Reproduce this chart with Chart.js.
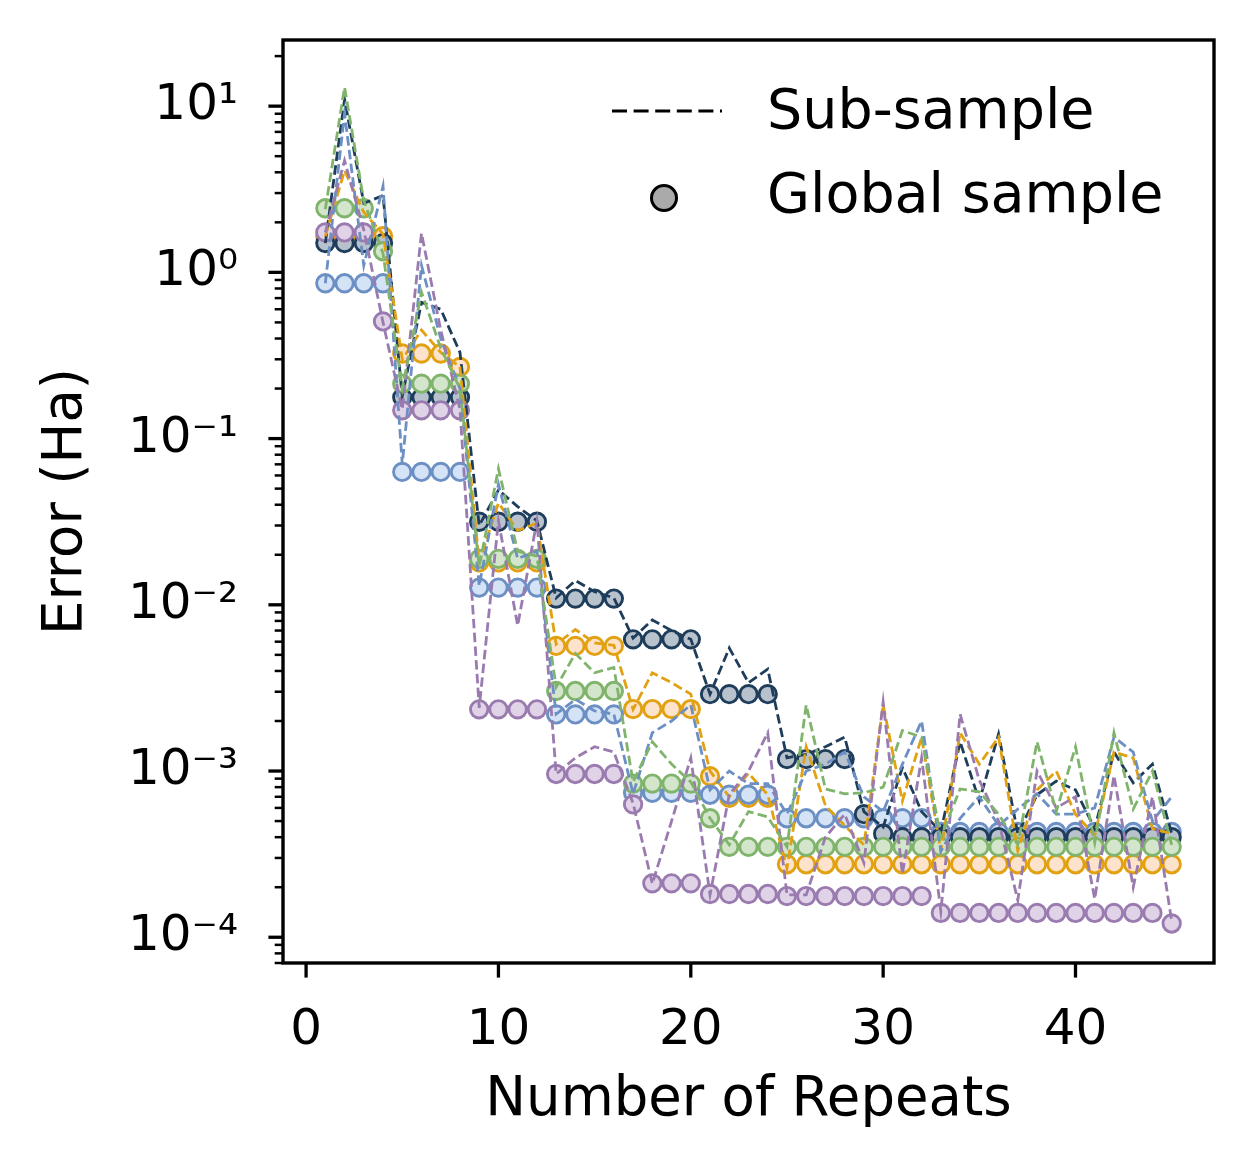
<!DOCTYPE html>
<html>
<head>
<meta charset="utf-8">
<script src="https://cdn.jsdelivr.net/npm/chart.js@4.4.1/dist/chart.umd.min.js"></script>
<style>
html,body{margin:0;padding:0;background:#fff;}
#wrap{width:1253px;height:1173px;}
</style>
</head>
<body>
<div id="wrap"><canvas id="c" width="1253" height="1173"></canvas></div>
<script>
// ---- data ----
const repeats = [1,2,3,4,5,6,7,8,9,10,11,12,13,14,15,16,17,18,19,20,21,22,23,24,25,26,27,28,29,30,31,32,33,34,35,36,37,38,39,40,41,42,43,44,45];

const navySub = [1.5, 11, 2.6, 2.9, 0.18, 0.66, 0.6, 0.33, 0.03, 0.049, 0.039, 0.032, 0.011, 0.014, 0.012, 0.011, 0.0063, 0.0081, 0.007, 0.0062, 0.0029, 0.0055, 0.0034, 0.0041, 0.0012, 0.00126, 0.0014, 0.0016, 0.00057, 0.00046, 0.00105, 0.00057, 0.00043, 0.0015, 0.00066, 0.00167, 0.00042, 0.00072, 0.00087, 0.00077, 0.00045, 0.0013, 0.00085, 0.0011, 0.00042];
const navyGlobal = [1.5, 1.5, 1.5, 1.5, 0.177, 0.177, 0.177, 0.177, 0.0316, 0.0316, 0.0316, 0.0316, 0.0109, 0.0109, 0.0109, 0.0109, 0.0062, 0.0062, 0.0062, 0.0062, 0.0029, 0.0029, 0.0029, 0.0029, 0.00118, 0.00118, 0.00118, 0.00118, 0.00055, 0.00042, 0.0004, 0.0004, 0.0004, 0.0004, 0.0004, 0.0004, 0.0004, 0.0004, 0.0004, 0.0004, 0.0004, 0.0004, 0.0004, 0.0004, 0.0004];

const orangeSub = [1.65, 4.1, 2.3, 1.7, 0.3, 0.45, 0.33, 0.27, 0.018, 0.041, 0.028, 0.031, 0.0058, 0.0071, 0.0059, 0.0057, 0.00235, 0.0039, 0.0034, 0.0029, 0.001, 0.0007, 0.00097, 0.00072, 0.00026, 0.0014, 0.00062, 0.00047, 0.00036, 0.0025, 0.00066, 0.0016, 0.00033, 0.0017, 0.0011, 0.0016, 0.00033, 0.00077, 0.001, 0.00055, 0.00041, 0.0013, 0.0012, 0.00045, 0.00042];
const orangeGlobal = [1.65, 1.65, 1.65, 1.65, 0.325, 0.325, 0.325, 0.27, 0.018, 0.018, 0.018, 0.018, 0.00566, 0.00566, 0.00566, 0.00566, 0.00236, 0.00236, 0.00236, 0.00236, 0.00093, 0.00069, 0.00069, 0.00069, 0.000275, 0.000275, 0.000275, 0.000275, 0.000275, 0.000275, 0.000275, 0.000275, 0.000275, 0.000275, 0.000275, 0.000275, 0.000275, 0.000275, 0.000275, 0.000275, 0.000275, 0.000275, 0.000275, 0.000275, 0.000275];

const greenSub = [2.4, 13, 2.7, 1.3, 0.2, 0.76, 0.35, 0.2, 0.017, 0.066, 0.021, 0.0196, 0.0032, 0.0051, 0.0039, 0.0042, 0.00086, 0.0015, 0.0011, 0.00086, 0.00052, 0.00036, 0.00057, 0.00053, 0.00035, 0.0025, 0.00078, 0.00073, 0.00074, 0.0008, 0.00175, 0.0016, 0.0004, 0.00078, 0.00075, 0.00055, 0.00036, 0.0015, 0.00057, 0.0014, 0.00037, 0.0017, 0.00059, 0.001, 0.00036];
const greenGlobal = [2.43, 2.43, 2.43, 1.34, 0.214, 0.214, 0.214, 0.214, 0.0189, 0.0189, 0.0189, 0.0189, 0.00303, 0.00303, 0.00303, 0.00303, 0.00084, 0.00084, 0.00084, 0.00084, 0.00052, 0.00035, 0.00035, 0.00035, 0.00035, 0.00035, 0.00035, 0.00035, 0.00035, 0.00035, 0.00035, 0.00035, 0.00035, 0.00035, 0.00035, 0.00035, 0.00035, 0.00035, 0.00035, 0.00035, 0.00035, 0.00035, 0.00035, 0.00035, 0.00035];

const blueSub = [0.86, 9, 1.1, 3.3, 0.07, 1.1, 0.4, 0.2, 0.013, 0.053, 0.019, 0.021, 0.0022, 0.0027, 0.0023, 0.0022, 0.00073, 0.0017, 0.002, 0.0025, 0.00077, 0.001, 0.00084, 0.00084, 0.00055, 0.001, 0.0011, 0.0013, 0.0007, 0.00057, 0.0011, 0.002, 0.00033, 0.00052, 0.0007, 0.00047, 0.00059, 0.00073, 0.00055, 0.00055, 0.0006, 0.0016, 0.0013, 0.0005, 0.0007];
const blueGlobal = [0.86, 0.86, 0.86, 0.86, 0.063, 0.063, 0.063, 0.063, 0.0127, 0.0127, 0.0127, 0.0127, 0.00219, 0.00219, 0.00219, 0.00219, 0.00074, 0.00074, 0.00074, 0.00074, 0.00072, 0.00072, 0.00072, 0.00072, 0.00052, 0.00052, 0.00052, 0.00052, 0.00052, 0.00052, 0.00052, 0.00052, 0.00043, 0.00043, 0.00043, 0.00043, 0.00043, 0.00043, 0.00043, 0.00043, 0.00043, 0.00043, 0.00043, 0.00043, 0.00043];

const purpleSub = [1.74, 4.7, 1.8, 0.5, 0.15, 1.72, 0.45, 0.15, 0.0024, 0.032, 0.0075, 0.032, 0.00096, 0.0012, 0.0014, 0.0013, 0.00064, 0.00021, 0.0005, 0.0012, 0.00018, 0.00072, 0.001, 0.0017, 0.00018, 0.00018, 0.0004, 0.00055, 0.00028, 0.0026, 0.00024, 0.0012, 0.000143, 0.0022, 0.00088, 0.0005, 0.000167, 0.001, 0.0006, 0.0007, 0.00017, 0.00094, 0.0002, 0.0007, 0.000125];
const purpleGlobal = [1.74, 1.74, 1.74, 0.507, 0.148, 0.148, 0.148, 0.148, 0.00235, 0.00235, 0.00235, 0.00235, 0.00096, 0.00096, 0.00096, 0.00096, 0.00063, 0.000211, 0.000211, 0.000211, 0.000182, 0.000182, 0.000182, 0.000182, 0.000177, 0.000177, 0.000177, 0.000177, 0.000177, 0.000177, 0.000177, 0.000177, 0.00014, 0.00014, 0.00014, 0.00014, 0.00014, 0.00014, 0.00014, 0.00014, 0.00014, 0.00014, 0.00014, 0.00014, 0.000121];

const xTickValues = [0, 10, 20, 30, 40];
const yTickValues = [1e-4, 1e-3, 1e-2, 1e-1, 1, 10];
const yTickLabels = ['10\u207B\u2074', '10\u207B\u00B3', '10\u207B\u00B2', '10\u207B\u00B9', '10\u2070', '10\u00B9'];
const legendLabels = ['Sub-sample', 'Global sample'];

// ---- styles ----
const COL = {
  navy:   {edge: '#1e3d5b', fill: '#b7c2cd'},
  orange: {edge: '#e1a110', fill: '#fde3cb'},
  green:  {edge: '#80b46c', fill: '#d3e6cc'},
  blue:   {edge: '#6c8fc4', fill: '#d4e4f6'},
  purple: {edge: '#9a7bb0', fill: '#e1d3e7'}
};
const toPts = arr => repeats.map((x, i) => ({x: x, y: arr[i]}));

function subSet(arr, c, order) {
  return {type: 'line', data: toPts(arr), borderColor: c.edge, borderWidth: 2.8,
    borderDash: [9.5, 4.3], pointRadius: 0, fill: false, tension: 0, order: order};
}
function globSet(arr, c, order) {
  return {type: 'line', data: toPts(arr), showLine: false, pointRadius: 8.7,
    pointBorderWidth: 2.9, pointBackgroundColor: c.fill, pointBorderColor: c.edge,
    borderColor: c.edge, backgroundColor: c.fill, order: order};
}

const datasets = [
  globSet(orangeGlobal, COL.orange, 20),
  globSet(blueGlobal, COL.blue, 19),
  globSet(navyGlobal, COL.navy, 18),
  globSet(greenGlobal, COL.green, 17),
  globSet(purpleGlobal, COL.purple, 16),
  subSet(navySub, COL.navy, 10),
  subSet(orangeSub, COL.orange, 9),
  subSet(blueSub, COL.blue, 8),
  subSet(purpleSub, COL.purple, 7),
  subSet(greenSub, COL.green, 6)
];

const FONT = 'DejaVu Sans';
Chart.defaults.font.family = FONT;
Chart.defaults.color = '#000';

const decor = {
  id: 'decor',
  afterDatasetsDraw(chart) {
    const ctx = chart.ctx, a = chart.chartArea;
    const xs = chart.scales.x, ys = chart.scales.y;
    ctx.save();
    ctx.strokeStyle = '#000';
    ctx.setLineDash([]);
    // x major ticks
    ctx.lineWidth = 3.3;
    xTickValues.forEach(v => {
      const px = xs.getPixelForValue(v);
      ctx.beginPath(); ctx.moveTo(px, a.bottom); ctx.lineTo(px, a.bottom + 14.6); ctx.stroke();
    });
    // y major ticks
    yTickValues.forEach(v => {
      const py = ys.getPixelForValue(v);
      ctx.beginPath(); ctx.moveTo(a.left, py); ctx.lineTo(a.left - 14.6, py); ctx.stroke();
    });
    // y minor ticks
    ctx.lineWidth = 2.5;
    for (let e = -5; e <= 1; e++) {
      for (let m = 2; m <= 9; m++) {
        const v = m * Math.pow(10, e);
        if (v < ys.min || v > ys.max) continue;
        const py = ys.getPixelForValue(v);
        ctx.beginPath(); ctx.moveTo(a.left, py); ctx.lineTo(a.left - 8.3, py); ctx.stroke();
      }
    }
    // frame
    ctx.lineWidth = 3.4;
    ctx.strokeRect(a.left, a.top, a.right - a.left, a.bottom - a.top);
    // legend
    ctx.lineWidth = 3;
    ctx.setLineDash([15, 6.6]);
    ctx.beginPath(); ctx.moveTo(612, 111); ctx.lineTo(722, 111); ctx.stroke();
    ctx.setLineDash([]);
    ctx.beginPath(); ctx.arc(664, 198, 12.5, 0, Math.PI * 2);
    ctx.fillStyle = '#aaaaaa'; ctx.fill();
    ctx.lineWidth = 3; ctx.stroke();
    ctx.fillStyle = '#000';
    ctx.font = '55.5px "' + FONT + '"';
    ctx.textAlign = 'left'; ctx.textBaseline = 'middle';
    ctx.fillText(legendLabels[0], 767, 114);
    ctx.fillText(legendLabels[1], 767, 198);
    ctx.restore();
  }
};

new Chart(document.getElementById('c'), {
  type: 'line',
  data: {datasets: datasets},
  options: {
    responsive: false,
    animation: false,
    devicePixelRatio: 1,
    layout: {padding: {left: 0, right: 39, top: 40, bottom: 0}},
    plugins: {legend: {display: false}, tooltip: {enabled: false}},
    scales: {
      x: {
        type: 'linear', min: -1.2, max: 47.2,
        afterBuildTicks: s => { s.ticks = xTickValues.map(v => ({value: v})); },
        afterFit: s => { s.height = 210; s.paddingLeft = 0; s.paddingRight = 0; },
        grid: {display: false, drawTicks: false},
        border: {display: false},
        ticks: {font: {size: 50, lineHeight: 1.2}, color: '#000', padding: 38, autoSkip: false, maxRotation: 0,
          callback: v => String(v)},
        title: {display: true, text: 'Number of Repeats', color: '#000',
          font: {size: 54.5, lineHeight: 1.2}, padding: {top: 0, bottom: 39}}
      },
      y: {
        type: 'logarithmic', min: 7e-5, max: 25,
        afterBuildTicks: s => { s.ticks = yTickValues.map(v => ({value: v})); },
        afterFit: s => { s.width = 283; s.paddingTop = 0; s.paddingBottom = 0; },
        grid: {display: false, drawTicks: false},
        border: {display: false},
        ticks: {font: {size: 50, lineHeight: 1.2}, color: '#000', padding: 45, autoSkip: false,
          callback: (v) => { const i = yTickValues.findIndex(t => Math.abs(Math.log10(t) - Math.log10(v)) < 1e-6); return i >= 0 ? yTickLabels[i] : ''; }},
        title: {display: true, text: 'Error (Ha)', color: '#000',
          font: {size: 54.5, lineHeight: 1.2}, padding: {top: 34, bottom: 0}}
      }
    }
  },
  plugins: [decor]
});
</script>
</body>
</html>
